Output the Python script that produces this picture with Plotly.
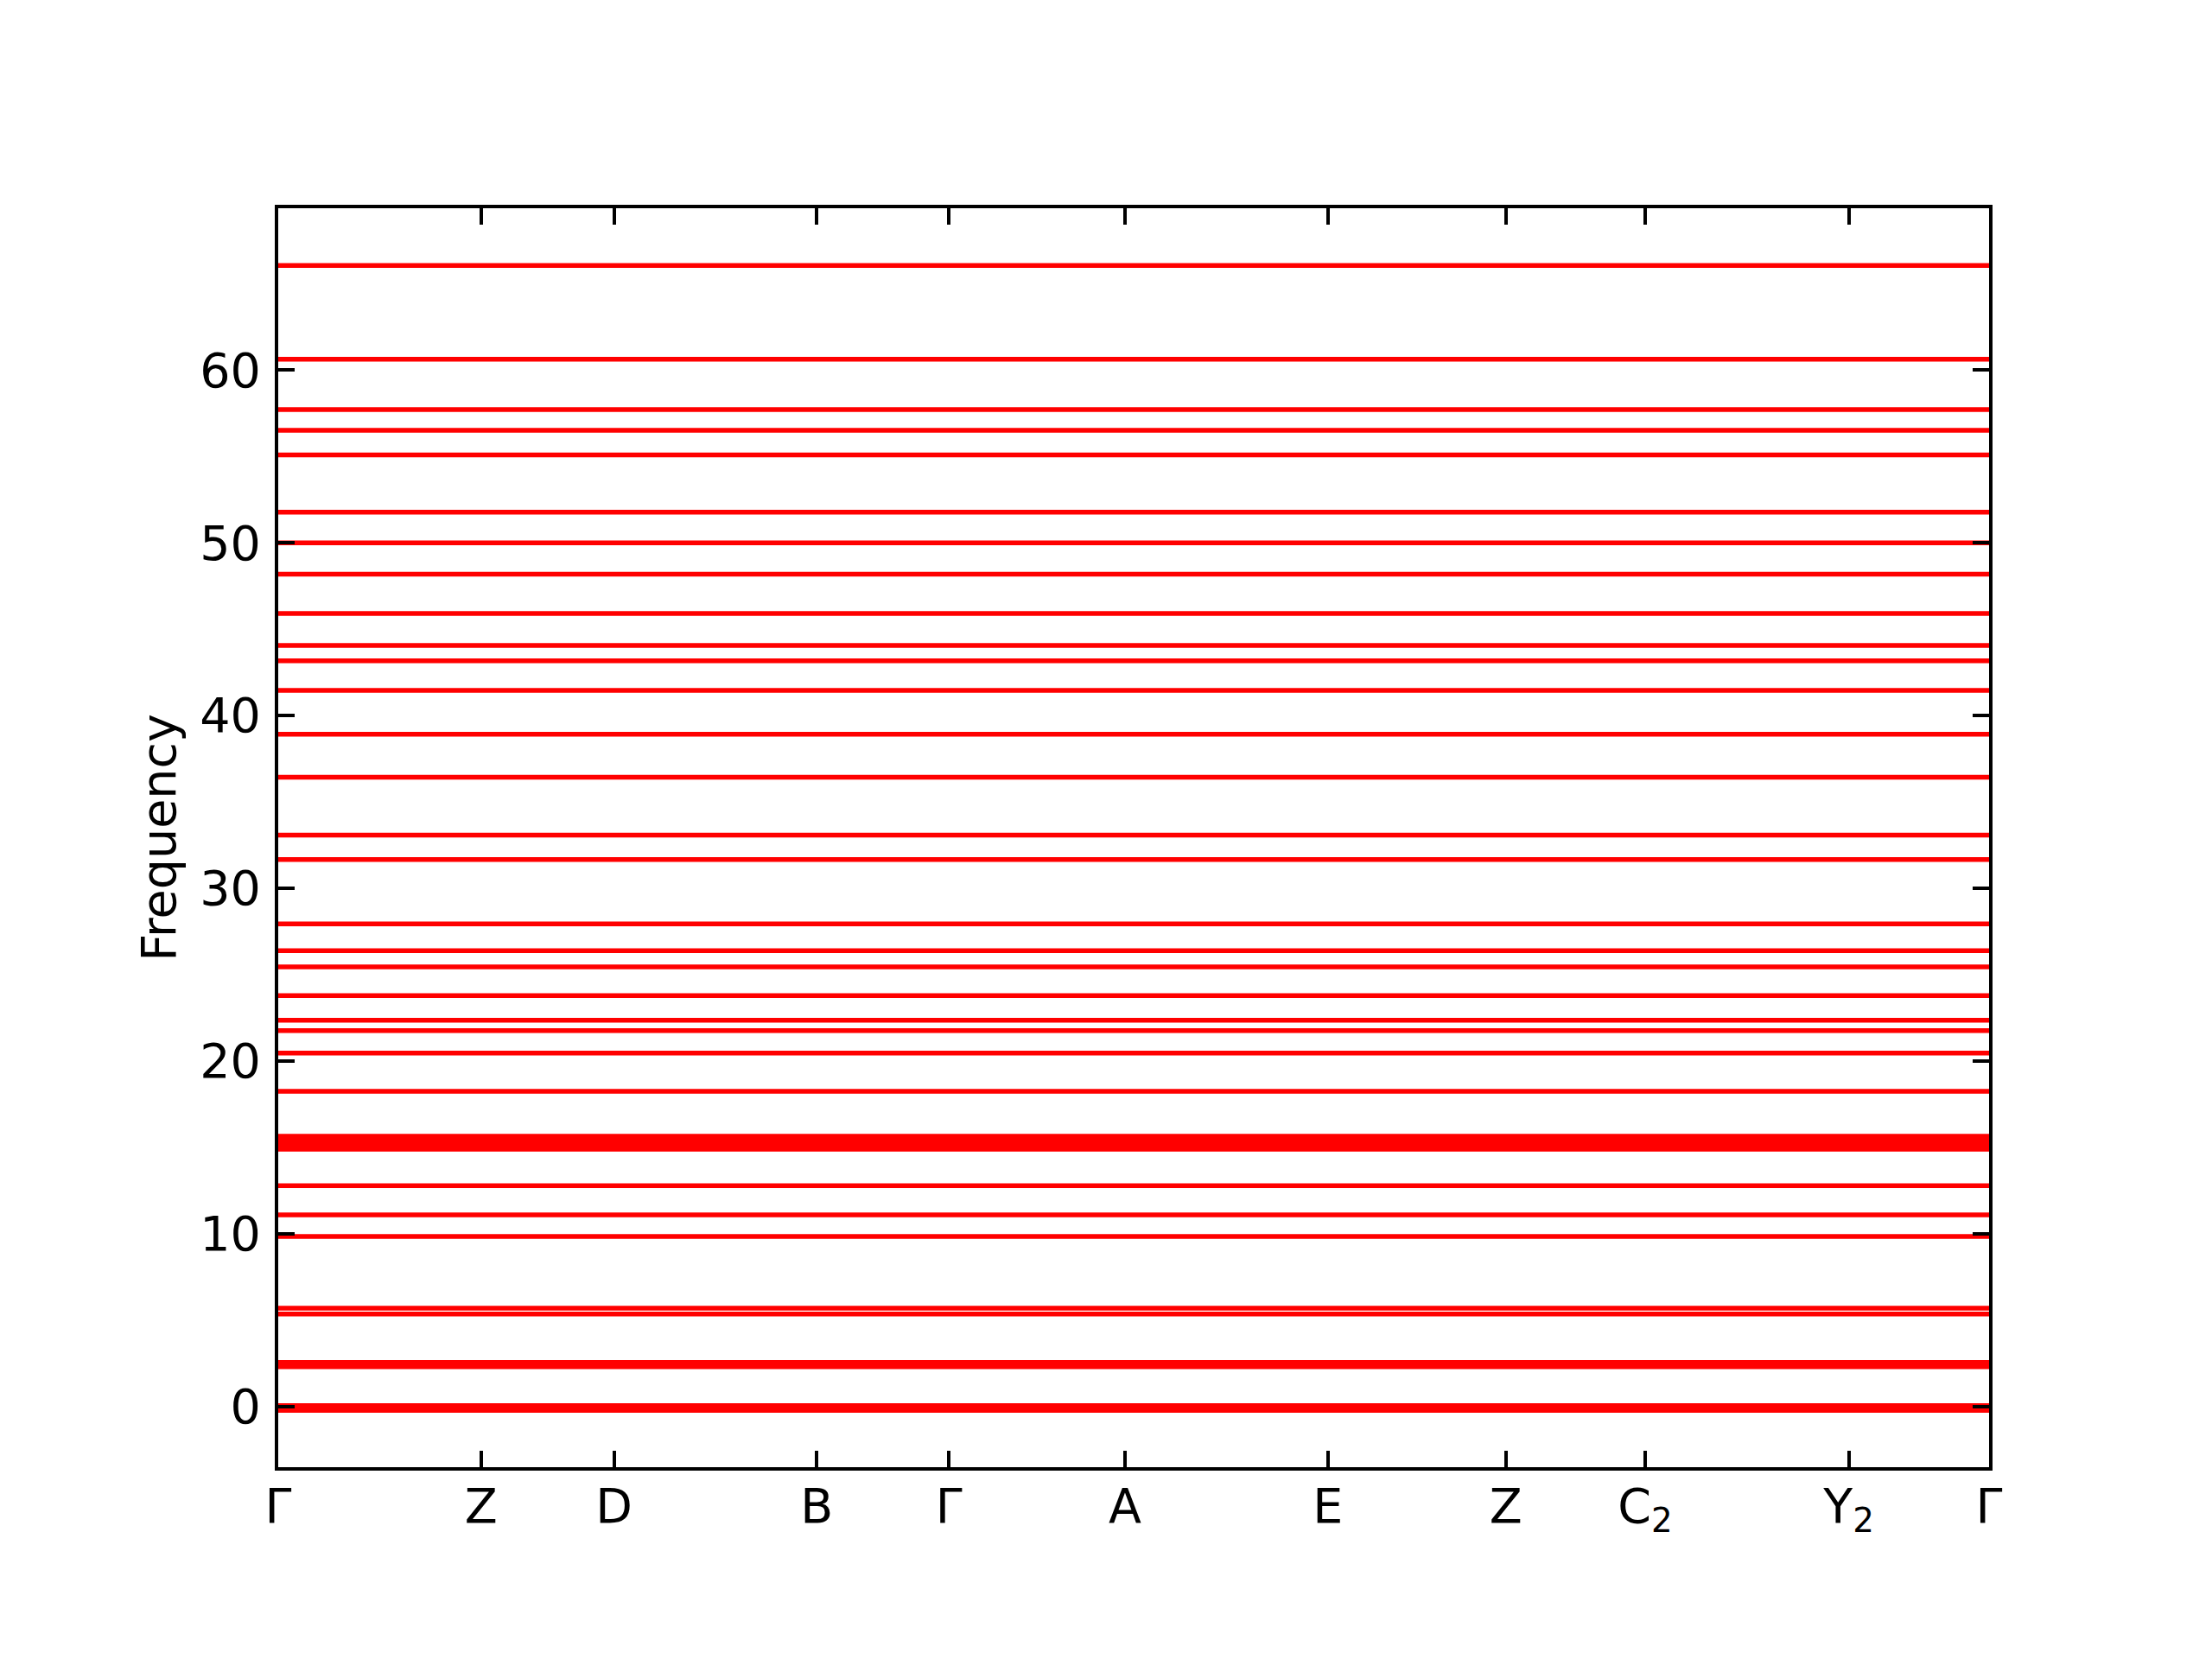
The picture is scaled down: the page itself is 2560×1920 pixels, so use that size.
import plotly.graph_objects as go

# High-symmetry k-path positions (cumulative path distance, normalized)
kpoint_pos = [0.0, 0.1186, 0.1963, 0.3148, 0.3920, 0.4950, 0.6135, 0.7175, 0.7990, 0.9180, 1.0]
kpoint_labels = ["Γ", "Z", "D", "B", "Γ", "A", "E", "Z", "C<sub>2</sub>", "Y<sub>2</sub>", "Γ"]

# Band frequencies (flat bands)
band_freqs = [
    -0.22, -0.08, 0.05,
    2.30, 2.55,
    5.35, 5.69,
    9.84, 11.09, 12.78,
    14.90, 15.10, 15.28, 15.45, 15.64,
    18.25, 20.46, 21.76, 22.36, 23.79, 25.45, 26.38, 27.93,
    31.66, 33.07, 36.42, 38.92, 41.45, 43.16, 44.05, 45.90,
    48.18, 49.99, 51.77, 55.08, 56.51, 57.71, 60.62, 66.05,
]

y_ticks = [0, 10, 20, 30, 40, 50, 60]

fig = go.Figure()
for f in band_freqs:
    fig.add_trace(go.Scatter(
        x=kpoint_pos,
        y=[f] * len(kpoint_pos),
        mode="lines",
        line=dict(color="#ff0000", width=5.5),
        showlegend=False,
        hoverinfo="skip",
    ))

font = dict(family="DejaVu Sans", size=55.5, color="black")

fig.update_layout(
    width=2560,
    height=1920,
    margin=dict(l=314, r=266, t=233, b=230, pad=0),
    paper_bgcolor="white",
    plot_bgcolor="white",
    font=font,
    showlegend=False,
)

fig.update_xaxes(
    range=[kpoint_pos[0], kpoint_pos[-1]],
    tickmode="array",
    tickvals=kpoint_pos,
    ticktext=kpoint_labels,
    ticks="inside",
    ticklen=19,
    tickwidth=4,
    tickcolor="black",
    showline=True,
    linecolor="black",
    linewidth=4,
    mirror="ticks",
    showgrid=False,
    zeroline=False,
    tickfont=font,
    ticklabelstandoff=-7,
)

fig.update_yaxes(
    range=[-3.51, 69.36],
    tickmode="array",
    tickvals=y_ticks,
    ticktext=[str(v) for v in y_ticks],
    ticks="inside",
    ticklen=19,
    tickwidth=4,
    tickcolor="black",
    showline=True,
    linecolor="black",
    linewidth=4,
    mirror="ticks",
    showgrid=False,
    zeroline=False,
    tickfont=font,
    ticklabelstandoff=5,
    title=dict(text="Frequency", font=font, standoff=11),
)

fig.write_html("out.html")
